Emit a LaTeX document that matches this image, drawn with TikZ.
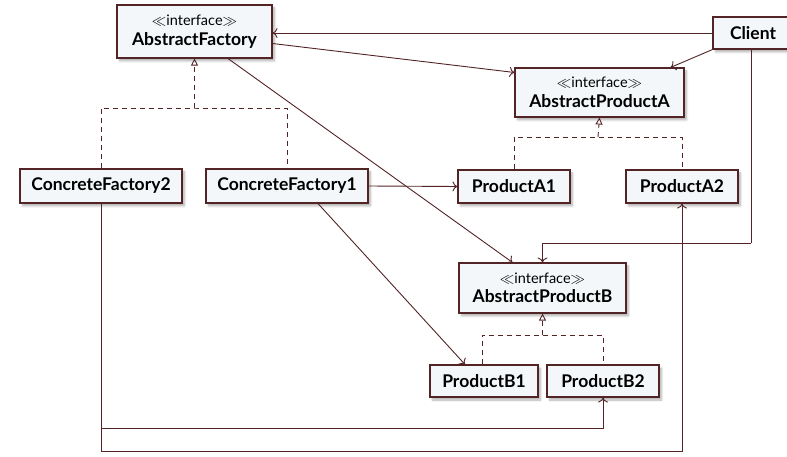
\documentclass[tikz,border=0pt]{standalone}
\usepackage{fontspec}
\setmainfont{Lato}
\usetikzlibrary{arrows.meta,shadows.blur,calc}
\definecolor{ln}{RGB}{82,36,38}
\definecolor{bx}{RGB}{243,247,249}
\tikzset{
  cls/.style={draw=ln, line width=1.1pt, fill=bx, inner sep=0pt, align=center,
    font=\fontsize{17.5}{19.5}\selectfont\bfseries,
    blur shadow={shadow xshift=2.5pt, shadow yshift=-3pt, shadow blur steps=6, shadow opacity=30}},
  assoc/.style={draw=ln, line width=0.9pt, -{To[length=5pt,width=10pt]}},
  real/.style={draw=ln, line width=0.9pt, dash pattern=on 5pt off 4pt},
  realtip/.style={draw=ln, line width=0.9pt, dash pattern=on 5pt off 4pt, -{Triangle[open,length=7pt,width=7pt,line width=0.9pt]}},
  plainline/.style={draw=ln, line width=0.9pt}
}
\newcommand{\stereo}{{\fontsize{14.5}{17}\selectfont\mdseries $\ll$interface$\gg$}\\}
\begin{document}
\begin{tikzpicture}[x=1pt,y=1pt]
\useasboundingbox (0,0) rectangle (787,456);
\node[cls, minimum width=155pt, minimum height=53pt] (AF) at (194.5,424.5) {\stereo AbstractFactory};
\node[cls, minimum width=80pt, minimum height=32pt] (Client) at (753,423) {Client};
\node[cls, minimum width=169pt, minimum height=49pt] (APA) at (599.5,363.5) {\stereo AbstractProductA};
\node[cls, minimum width=162pt, minimum height=34pt] (CF2) at (101,270) {ConcreteFactory2};
\node[cls, minimum width=162pt, minimum height=34pt] (CF1) at (287,270) {ConcreteFactory1};
\node[cls, minimum width=112pt, minimum height=33pt] (PA1) at (514,269.5) {ProductA1};
\node[cls, minimum width=112pt, minimum height=33pt] (PA2) at (682,269.5) {ProductA2};
\node[cls, minimum width=167pt, minimum height=50pt] (APB) at (542.5,168) {\stereo AbstractProductB};
\node[cls, minimum width=108pt, minimum height=32pt] (PB1) at (484,75) {ProductB1};
\node[cls, minimum width=112pt, minimum height=32pt] (PB2) at (603,75) {ProductB2};
% realization junctions
\coordinate (jA) at (194.5,348);
\coordinate (jB) at (598,319);
\coordinate (jC) at (542.5,121);
\coordinate (low1) at (101,28);
\coordinate (low2) at (101,5);
\coordinate (cB) at (751,213);
% realizations
\draw[real] (CF2.north) |- (jA) -| (CF1.north);
\draw[realtip] (jA) -- (AF.south);
\draw[real] (PA1.north) |- (jB) -| (PA2.north);
\draw[realtip] (jB) -- (APA.south);
\draw[real] ([xshift=-2pt]PB1.north) |- (jC) -| (PB2.north);
\draw[realtip] (jC) -- (APB.south);
% associations
\draw[assoc] (Client.west) -- (Client.west -| AF.east);
\draw[assoc] (Client.south west) -- ([xshift=-14pt]APA.north east);
\draw[assoc] ([yshift=-12pt]AF.east) -- ([yshift=20pt]APA.west);
\draw[assoc] ([xshift=33.5pt]AF.south) -- ([xshift=-30pt]APB.north);
\draw[assoc] (CF1.east) -- (PA1.west);
\draw[assoc] ([xshift=31pt]CF1.south) -- ([xshift=-19pt]PB1.north);
\draw[plainline] (Client.south -| cB) -- (cB);
\draw[assoc] (cB) -| (APB.north);
\draw[plainline] (CF2.south) -- (low2);
\draw[assoc] (low1) -| (PB2.south);
\draw[assoc] (low2) -| (PA2.south);
\end{tikzpicture}
\end{document}
